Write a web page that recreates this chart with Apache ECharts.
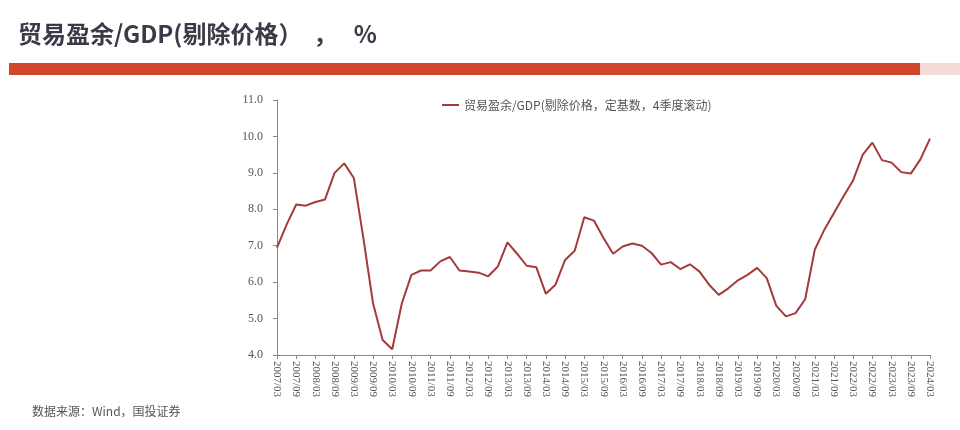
<!DOCTYPE html>
<html>
<head>
<meta charset="utf-8">
<script src="https://cdn.jsdelivr.net/npm/echarts@6/dist/echarts.min.js"></script>
<style>
html,body{margin:0;padding:0;background:#fff;}
#c{width:960px;height:430px;}
</style>
</head>
<body>
<div id="c"></div>
<script>
// Quarterly categories 2007/03 .. 2024/03
const categories = [
 "2007/03","2007/06","2007/09","2007/12","2008/03","2008/06","2008/09","2008/12",
 "2009/03","2009/06","2009/09","2009/12","2010/03","2010/06","2010/09","2010/12",
 "2011/03","2011/06","2011/09","2011/12","2012/03","2012/06","2012/09","2012/12",
 "2013/03","2013/06","2013/09","2013/12","2014/03","2014/06","2014/09","2014/12",
 "2015/03","2015/06","2015/09","2015/12","2016/03","2016/06","2016/09","2016/12",
 "2017/03","2017/06","2017/09","2017/12","2018/03","2018/06","2018/09","2018/12",
 "2019/03","2019/06","2019/09","2019/12","2020/03","2020/06","2020/09","2020/12",
 "2021/03","2021/06","2021/09","2021/12","2022/03","2022/06","2022/09","2022/12",
 "2023/03","2023/06","2023/09","2023/12","2024/03"
];
const seriesName = "贸易盈余/GDP(剔除价格，定基数，4季度滚动)";
const values = [
 6.95,7.58,8.13,8.10,8.20,8.27,9.00,9.26,
 8.86,7.20,5.42,4.41,4.16,5.42,6.20,6.32,
 6.32,6.57,6.69,6.32,6.29,6.26,6.16,6.43,
 7.09,6.78,6.45,6.41,5.68,5.93,6.61,6.86,
 7.78,7.69,7.21,6.78,6.98,7.06,7.00,6.80,
 6.48,6.55,6.36,6.49,6.29,5.93,5.65,5.83,
 6.05,6.20,6.39,6.11,5.35,5.06,5.15,5.53,
 6.89,7.44,7.90,8.36,8.80,9.50,9.83,9.35,
 9.28,9.02,8.98,9.37,9.94
];
const titleText = "贸易盈余/GDP(剔除价格）  ，   %";
const sourceText = "数据来源：Wind，国投证券";
const yMin = 4, yMax = 11, yStep = 1;

const chart = echarts.init(document.getElementById('c'), null, {renderer:'canvas'});
chart.setOption({
  backgroundColor:'#ffffff',
  animation:false,
  title:{
    text:titleText, left:13, top:17,
    textStyle:{fontFamily:'"Noto Sans CJK SC","Noto Sans",sans-serif',fontWeight:'bold',fontSize:24,color:'#3b3b48'}
  },
  legend:{
    top:94, left:437, itemWidth:17, itemHeight:2, itemGap:4,
    icon:'rect',
    data:[seriesName],
    textStyle:{fontFamily:'"Noto Sans CJK SC",sans-serif',fontSize:12,color:'#555'}
  },
  graphic:[
    {type:'rect', left:9, top:63, shape:{width:911,height:12}, style:{fill:'#d0472b'}},
    {type:'rect', left:920, top:63, shape:{width:40,height:12}, style:{fill:'#f3dcd6'}},
    {type:'text', left:32, top:405, style:{text:sourceText, fill:'#555', font:'12px "Noto Sans CJK SC", sans-serif'}}
  ],
  grid:{left:277, right:30, top:100, bottom:75, containLabel:false},
  xAxis:{
    type:'category', data:categories, boundaryGap:false,
    axisLine:{lineStyle:{color:'#888',width:1}},
    axisTick:{show:true, interval:1, length:4, lineStyle:{color:'#888'}},
    axisLabel:{interval:1, rotate:-90, margin:6, color:'#555', fontSize:11,
      fontFamily:'"Liberation Serif","DejaVu Serif",serif'},
    splitLine:{show:false}
  },
  yAxis:{
    type:'value', min:yMin, max:yMax, interval:yStep,
    axisLine:{show:true, lineStyle:{color:'#888',width:1}},
    axisTick:{show:true, length:4, inside:false, lineStyle:{color:'#888'}},
    axisLabel:{margin:14, color:'#555', fontSize:12,
      fontFamily:'"Liberation Serif","DejaVu Serif",serif',
      formatter:v=>v.toFixed(1)},
    splitLine:{show:false}
  },
  series:[{
    name:seriesName, type:'line', data:values, showSymbol:false, symbol:'none',
    lineStyle:{color:'#a53a3a', width:2},
    itemStyle:{color:'#a53a3a'}
  }]
});
</script>
</body>
</html>
